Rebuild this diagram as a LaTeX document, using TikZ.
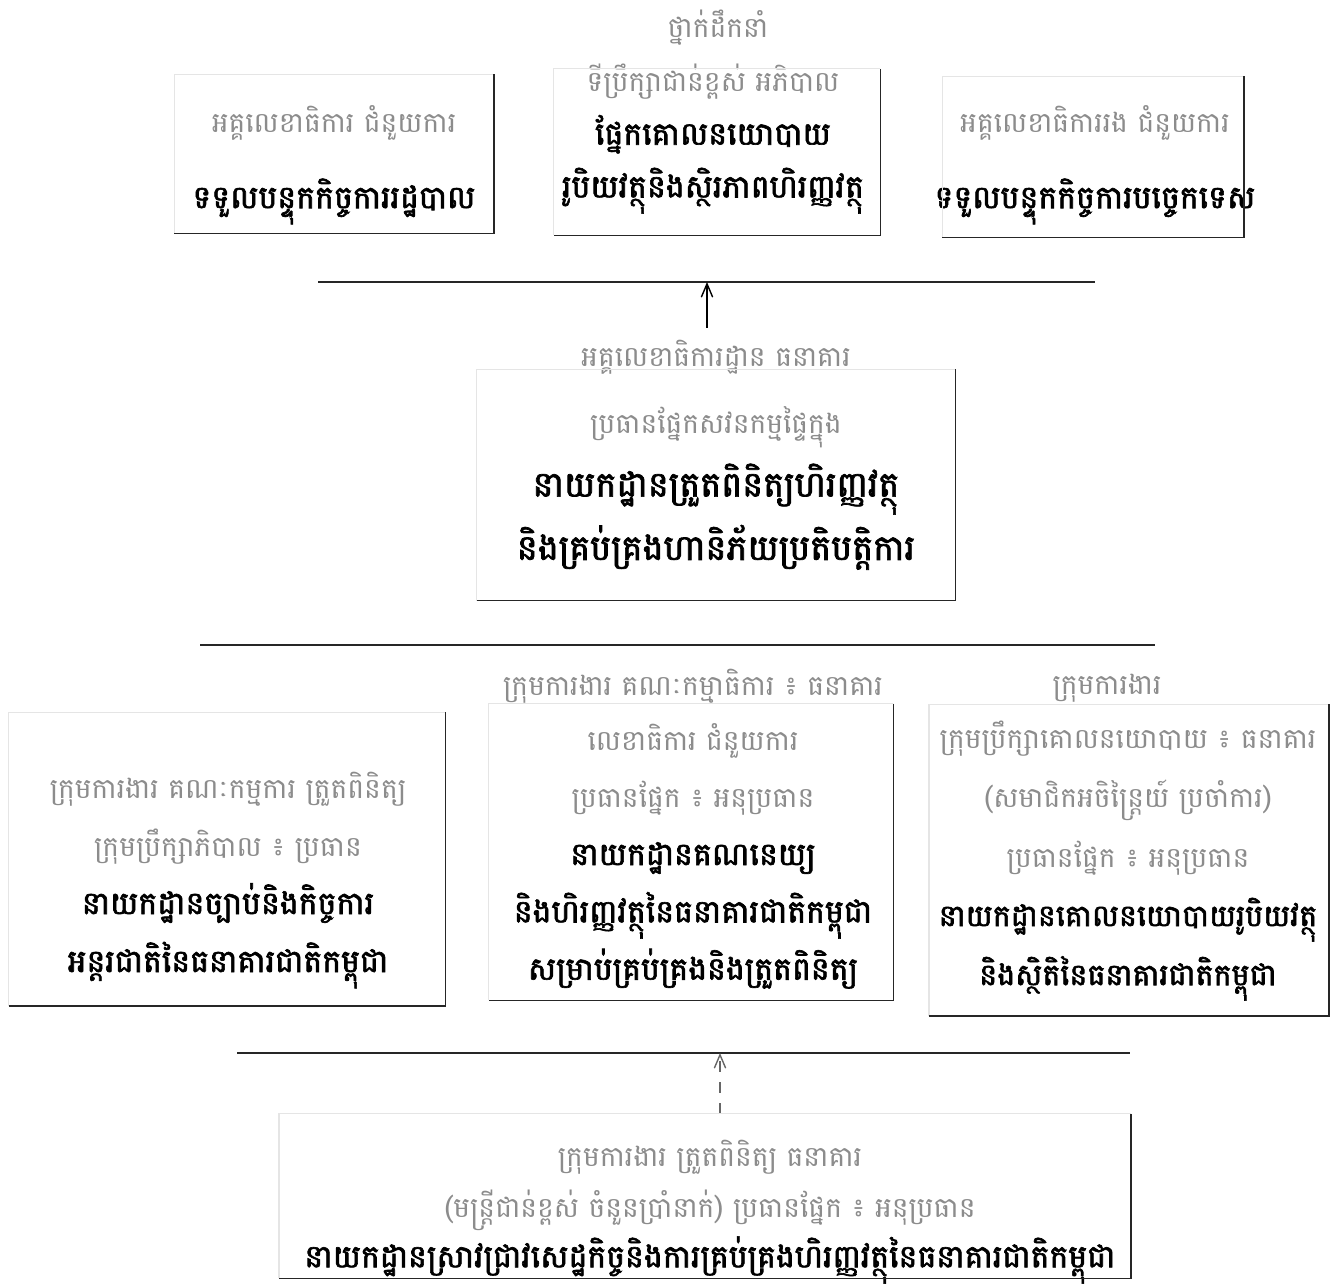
\documentclass[tikz,border=0pt]{standalone}
\usepackage{fontspec}
\usepackage{xcolor}
\usepackage{tikz}
\usetikzlibrary{arrows}
\usetikzlibrary{calc}
\usetikzlibrary{positioning}

\newfontfamily\khmer[Script=Khmer, AutoFakeBold=2]{Battambang}
\newcommand{\pale}[1]{{\fontsize{8}{10}\selectfont\color{black!45}#1}}
\newcommand{\heavy}[1]{\textbf{#1}}

\begin{document}
\begin{tikzpicture}[x=0.01cm, y=-0.01cm, >=angle 45, thin,
	post/.style={rectangle, inner sep=0pt},
	says/.style={align=center, font=\khmer\fontsize{9}{17}\selectfont},
	tag/.style={font=\khmer\fontsize{8}{10}\selectfont, text=black!45},
	litedge/.style={draw=black!10},
	darkedge/.style={draw=black!85},
	bus/.style={draw=black!85},
]
\useasboundingbox (0,0) rectangle (1336,1284);
% --- top row
\node [tag] (head) at (718,28) {ថ្នាក់ដឹកនាំ};
\node [post, minimum width=3.18cm, minimum height=1.58cm] (tl) at (334,154) {};
\node [post, minimum width=3.25cm, minimum height=1.65cm] (tc) at (717,152) {};
\node [post, minimum width=3.00cm, minimum height=1.60cm] (tr) at (1093,157) {};
\node [says] (tlt) at (334,165) {\pale{អគ្គលេខាធិការ ជំនួយការ}\\[0.5em] \heavy{ទទួលបន្ទុកកិច្ចការរដ្ឋបាល}};
\node [says, font=\khmer\fontsize{9}{15}\selectfont] (tct) at (713,139) {\pale{ទីប្រឹក្សាជាន់ខ្ពស់ អភិបាល}\\ \heavy{ផ្នែកគោលនយោបាយ}\\ \heavy{រូបិយវត្ថុនិងស្ថិរភាពហិរញ្ញវត្ថុ}};
\node [says] (trt) at (1095,165) {\pale{អគ្គលេខាធិការរង ជំនួយការ}\\[0.5em] \heavy{ទទួលបន្ទុកកិច្ចការបច្ចេកទេស}};
% --- middle
\coordinate (bus1) at (707,282);
\draw [bus] (318,282) -- (1095,282);
\node [post, minimum width=4.77cm, minimum height=2.30cm] (mid) at (716,485) {};
\node [tag] (midtag) at (716,357) {អគ្គលេខាធិការដ្ឋាន ធនាគារ};
\node [says, font=\khmer\fontsize{10}{18}\selectfont] (midt) at (716,488) {\pale{ប្រធានផ្នែកសវនកម្មផ្ទៃក្នុង}\\ \heavy{នាយកដ្ឋានត្រួតពិនិត្យហិរញ្ញវត្ថុ}\\ \heavy{និងគ្រប់គ្រងហានិភ័យប្រតិបត្តិការ}};
\draw [->] (midtag.north -| bus1) -- (bus1);
\draw [bus] (200,645) -- (1155,645);
% --- lower row
\node [post, minimum width=4.35cm, minimum height=2.92cm] (ll) at (227,859) {};
\node [post, minimum width=4.03cm, minimum height=2.95cm] (lm) at (691,852) {};
\node [post, minimum width=3.98cm, minimum height=3.10cm] (lr) at (1129,860) {};
\node [tag] (lmtag) at (693,686) {ក្រុមការងារ គណៈកម្មាធិការ ៖ ធនាគារ};
\node [tag] (lrtag) at (1107,688) {ក្រុមការងារ};
\node [says, font=\khmer\fontsize{9}{16.5}\selectfont] (llt) at (228,880) {\pale{ក្រុមការងារ គណៈកម្មការ ត្រួតពិនិត្យ}\\ \pale{ក្រុមប្រឹក្សាភិបាល ៖ ប្រធាន}\\ \heavy{នាយកដ្ឋានច្បាប់និងកិច្ចការ}\\ \heavy{អន្តរជាតិនៃធនាគារជាតិកម្ពុជា}};
\node [says, font=\khmer\fontsize{9}{16.3}\selectfont] (lmt) at (693,856) {\pale{លេខាធិការ ជំនួយការ}\\ \pale{ប្រធានផ្នែក ៖ អនុប្រធាន}\\ \heavy{នាយកដ្ឋានគណនេយ្យ}\\ \heavy{និងហិរញ្ញវត្ថុនៃធនាគារជាតិកម្ពុជា}\\ \heavy{សម្រាប់គ្រប់គ្រងនិងត្រួតពិនិត្យ}};
\node [says, font=\khmer\fontsize{8.6}{16.8}\selectfont] (lrt) at (1128,861) {\pale{ក្រុមប្រឹក្សាគោលនយោបាយ ៖ ធនាគារ}\\ \pale{(សមាជិកអចិន្ត្រៃយ៍ ប្រចាំការ)}\\ \pale{ប្រធានផ្នែក ៖ អនុប្រធាន}\\ \heavy{នាយកដ្ឋានគោលនយោបាយរូបិយវត្ថុ}\\ \heavy{និងស្ថិតិនៃធនាគារជាតិកម្ពុជា}};
% --- bottom
\coordinate (bus3) at (720,1053);
\draw [bus] (237,1053) -- (1130,1053);
\node [post, minimum width=8.50cm, minimum height=1.63cm] (bt) at (705,1196) {};
\node [says, font=\khmer\fontsize{9}{14.3}\selectfont] (btt) at (710,1212) {\pale{ក្រុមការងារ ត្រួតពិនិត្យ ធនាគារ}\\ \pale{(មន្ត្រីជាន់ខ្ពស់ ចំនួនប្រាំនាក់) ប្រធានផ្នែក ៖ អនុប្រធាន}\\ \heavy{នាយកដ្ឋានស្រាវជ្រាវសេដ្ឋកិច្ចនិងការគ្រប់គ្រងហិរញ្ញវត្ថុនៃធនាគារជាតិកម្ពុជា}};
\draw [->, dashed, black!60] (bt.north -| bus3) -- (bus3);
% --- box edges
\foreach \b in {tl, tc, tr, mid, ll, lm, lr, bt} {
	\draw [litedge] (\b.south west) |- (\b.north east);
	\draw [darkedge] (\b.north east) |- (\b.south west);
}
\end{tikzpicture}
\end{document}
